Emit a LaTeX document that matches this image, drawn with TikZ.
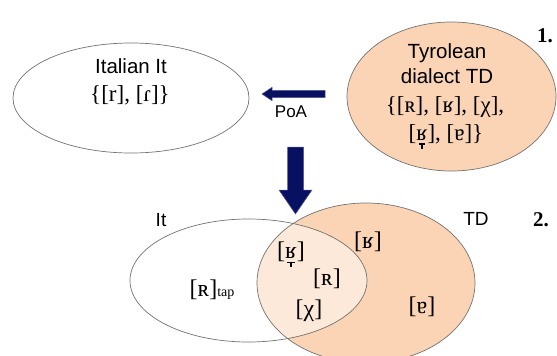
\documentclass[tikz,border=0pt]{standalone}
\usepackage{fontspec}
\setmainfont{Liberation Serif}
\newfontfamily\labelsans{Liberation Sans}
% letter with a lowering (down tack) diacritic centred beneath it
\newcommand\lowered[1]{{\leavevmode\ooalign{#1\cr
  \hidewidth\rule[-0.2em]{0.3em}{0.05em}\hidewidth\cr
  \hidewidth\rule[-0.38em]{0.05em}{0.2em}\hidewidth\cr}}}
\begin{document}
\begin{tikzpicture}[x=1pt,y=-1pt,
  setline/.style={draw=gray!90!black, line width=0.7pt},
  peach/.style={fill=tdpeach},
  blockarrow/.style={fill=navyblue, draw=navyblue!70!white, line width=0.5pt},
  sanslabel/.style={font=\labelsans\fontsize{20.5}{24}\selectfont, anchor=base, inner sep=0pt},
  smallsans/.style={font=\labelsans\fontsize{17}{20}\selectfont, anchor=base, inner sep=0pt},
  ipa/.style={font=\fontsize{23}{26}\selectfont, anchor=base, inner sep=0pt},
  ipavenn/.style={font=\fontsize{24}{26}\selectfont, anchor=base, inner sep=0pt},
  stepno/.style={font=\bfseries\fontsize{21}{24}\selectfont, anchor=base, inner sep=0pt}]
\definecolor{tdpeach}{RGB}{250,212,180}
\definecolor{navyblue}{RGB}{8,16,98}
\useasboundingbox (0,0) rectangle (557,356);

% ---- 1. the two systems ----
\path[setline, fill=white] (131,98) ellipse [x radius=118, y radius=55];
\path[setline, peach] (451.5,96.5) ellipse [x radius=104.5, y radius=74.5];

\node[sanslabel] (itname) at (131,73) {Italian It};
\node[ipa] (itset) at (130,101) {\{[r], [ɾ]\}};

\node[sanslabel] (tdname1) at (447,58) {Tyrolean};
\node[sanslabel] (tdname2) at (447,83) {dialect TD};
\node[ipa] (tdset1) at (445,112) {\{[ʀ], [ʁ], [χ],};
\node[ipa] (tdset2) at (446,140) {[\lowered{ʁ}], [ɐ]\}};

% place-of-articulation transfer arrow
\path[blockarrow] (325,90.3) -- (272,90.3) -- (272,87.3) -- (262,94)
  -- (272,100.7) -- (272,97.7) -- (325,97.7) -- cycle;
\node[smallsans] (poa) at (291,117) {PoA};

\node[stepno] (one) at (545,42) {1.};

% down arrow to the merged system
\path[blockarrow] (287.5,147) -- (303.5,147) -- (303.5,190) -- (312,190)
  -- (295.5,214) -- (279,190) -- (287.5,190) -- cycle;

% ---- 2. the overlapping systems ----
\path[peach] (366,283) ellipse [x radius=109, y radius=80];
\path[fill=white, fill opacity=0.5] (248.5,280.5) ellipse [x radius=118.5, y radius=61.5];
\path[setline] (366,283) ellipse [x radius=109, y radius=80];
\path[setline] (248.5,280.5) ellipse [x radius=118.5, y radius=61.5];

\node[sanslabel, font=\labelsans\fontsize{19}{22}\selectfont] (itlabel) at (161,226) {It};
\node[sanslabel, font=\labelsans\fontsize{19}{22}\selectfont] (tdlabel) at (476,225) {TD};
\node[stepno] (two) at (541,226) {2.};

\node[ipavenn] (rtap) at (212,296) {[ʀ]{\fontsize{14}{16}\selectfont tap}};
\node[ipavenn] (rlow) at (291,258) {[\lowered{ʁ}]};
\node[ipavenn] (rfric) at (368,248) {[ʁ]};
\node[ipavenn] (ruvu) at (327,285) {[ʀ]};
\node[ipavenn] (chi) at (309,316) {[χ]};
\node[ipavenn] (schwa) at (422,313) {[ɐ]};
\end{tikzpicture}
\end{document}
